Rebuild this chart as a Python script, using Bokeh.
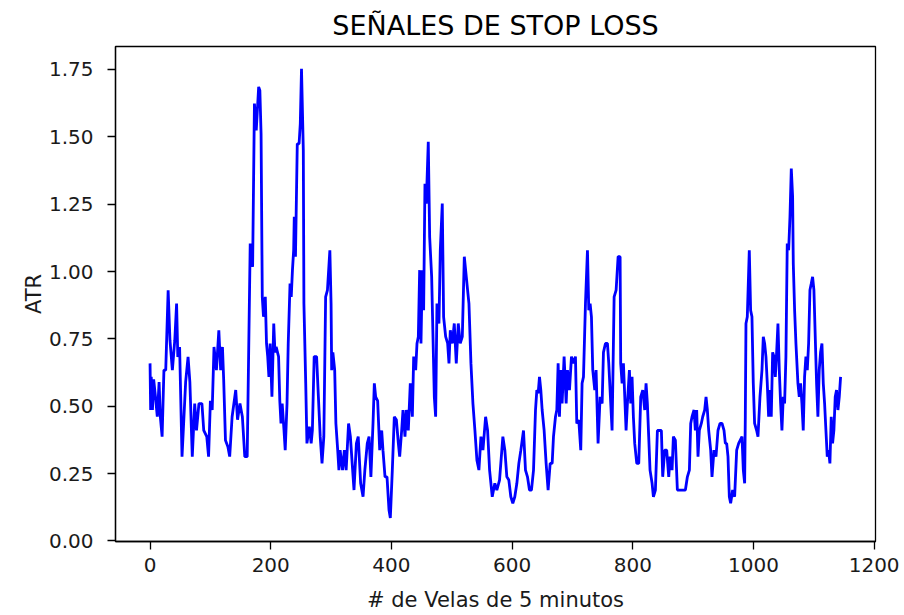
from bokeh.plotting import figure
from bokeh.models import Range1d, FixedTicker
from bokeh.embed import file_html
from bokeh.resources import INLINE

# ---- data (vertices) ----
vela = [0, 1, 2, 4, 6, 9, 12, 15, 17, 20, 23, 26, 30, 33, 37, 41, 44, 46, 49, 53,
        59, 63, 66, 70, 74, 77, 81, 86, 89, 94, 97, 100, 103, 106, 110, 114, 117, 120, 122, 125,
        129, 132, 136, 142, 145, 149, 153, 157, 161, 166, 170, 173, 176, 180, 182, 184, 186, 188, 191, 193,
        195, 197, 199, 202, 205, 207, 209, 213, 215, 217, 219, 222, 224, 227, 229, 232, 234, 236, 238, 239,
        241, 244, 247, 249, 251, 254, 255, 258, 260, 264, 267, 269, 272, 276, 279, 282, 285, 288, 291, 294,
        298, 300, 301, 303, 306, 308, 311, 313, 315, 319, 322, 325, 329, 332, 335, 338, 342, 345, 349, 353,
        356, 360, 363, 366, 369.5, 371.7, 373.9, 377.2, 380.6, 383.9, 386, 389.4, 392.7, 396, 398.2, 401.5, 404.8, 408.2, 411.5, 413.7,
        417, 419.2, 422.5, 424.7, 428, 431.3, 434.7, 436.9, 440.2, 442.4, 444.6, 446.8, 449, 451.2, 453.4, 455.6, 457.8, 461.1, 463.4, 466.7,
        468.9, 471.1, 473.3, 475.5, 478.8, 481, 484.3, 486.5, 489.9, 493.2, 495.4, 497.6, 500.9, 504.2, 507.5, 510.8, 514.1, 517.5, 520.8, 524.1,
        526.3, 528.5, 531.8, 535.1, 538.4, 541.7, 545, 548.4, 551.7, 556.1, 559.4, 562.7, 567.1, 571.4, 574.7, 579.2, 584.7, 588, 591.3, 594.6,
        597.9, 601.2, 604.5, 607.9, 611.2, 614.5, 618.9, 622.2, 625.5, 628.8, 632.1, 635.5, 638.8, 641, 643.2, 645.4, 647.6, 649.8, 653.1, 656.4,
        659.7, 663.1, 666.4, 668.6, 671.9, 674.1, 676.3, 678.5, 680.7, 682.9, 686.2, 689.6, 691.8, 695.1, 698.4, 701.7, 705, 707.2, 710.5, 713.8,
        716, 718.3, 721.6, 724.9, 727.1, 729.3, 731.5, 733.7, 737, 739.2, 742.5, 745.9, 749.2, 751.4, 754.7, 758, 760.2, 762.4, 765.7, 769.1,
        772.4, 775.7, 779, 780, 782.3, 784.5, 786.7, 788.9, 791.1, 794.4, 796.6, 798.8, 801, 803.2, 806.6, 809.9, 813.2, 816.5, 819.8, 822,
        824.2, 826.4, 828.6, 832, 834.2, 837.5, 840.8, 844.1, 847.4, 849.6, 852.9, 856.2, 859.6, 861.8, 865.1, 867.3, 870.6, 873.9, 877.2, 880.5,
        883.8, 887.2, 890.5, 893.8, 896, 898.2, 901.5, 903.7, 905.9, 908.1, 910.3, 913.6, 915.9, 919.2, 921.4, 923.6, 925.8, 929.1, 931.3, 934.6,
        937.9, 941.2, 944.6, 947.9, 951.2, 953.4, 955.6, 957.8, 960, 962.2, 965.5, 968.8, 972.2, 975.5, 981, 983.2, 985.4, 986.5, 987.6, 989.8,
        993.1, 995.3, 997.5, 999.7, 1001.9, 1005.3, 1007.5, 1010.8, 1014.1, 1016.3, 1018.5, 1020.7, 1022.9, 1025.1, 1027.3, 1029.5, 1031.8, 1034, 1036.2, 1038.4,
        1040.6, 1042.8, 1045, 1047.2, 1049.4, 1051.6, 1053.8, 1056, 1058.3, 1060.5, 1062.7, 1064.9, 1066, 1068.2, 1070.4, 1073.7, 1075.9, 1078.1, 1080.3, 1082.5,
        1084.7, 1086.9, 1089.2, 1091.4, 1093.6, 1095.8, 1098, 1100.2, 1102.4, 1104.6, 1106.8, 1109, 1111.2, 1113.5, 1115.7, 1117.9, 1120.1, 1122.3, 1124.5, 1126.7,
        1128.9, 1131.1, 1133.3, 1135.5, 1137.7, 1140, 1142.2, 1144.4]

atr = [0.659, 0.486, 0.609, 0.486, 0.60, 0.535, 0.461, 0.59, 0.461, 0.387, 0.634, 0.634, 0.93, 0.745, 0.634, 0.745, 0.881, 0.683, 0.72, 0.313,
       0.59, 0.683, 0.59, 0.313, 0.51, 0.41, 0.51, 0.51, 0.41, 0.387, 0.313, 0.52, 0.486, 0.72, 0.634, 0.782, 0.634, 0.72, 0.60, 0.374,
       0.35, 0.313, 0.461, 0.56, 0.45, 0.51, 0.461, 0.313, 0.313, 1.104, 1.017, 1.623, 1.524, 1.685, 1.672, 1.51, 0.906, 0.832, 0.906, 0.733,
       0.684, 0.609, 0.733, 0.535, 0.807, 0.70, 0.72, 0.684, 0.522, 0.436, 0.51, 0.41, 0.337, 0.51, 0.733, 0.955, 0.906, 1.005, 1.079, 1.203,
       1.055, 1.474, 1.474, 1.549, 1.752, 1.45, 0.881, 0.585, 0.362, 0.424, 0.362, 0.41, 0.684, 0.684, 0.535, 0.387, 0.288, 0.387, 0.906, 0.931,
       1.079, 0.881, 0.634, 0.70, 0.634, 0.436, 0.337, 0.263, 0.337, 0.263, 0.337, 0.263, 0.436, 0.387, 0.288, 0.189, 0.362, 0.387, 0.214, 0.164,
       0.263, 0.362, 0.387, 0.238, 0.436, 0.585, 0.535, 0.52, 0.337, 0.41, 0.337, 0.238, 0.238, 0.115, 0.085, 0.263, 0.461, 0.45, 0.362, 0.313,
       0.41, 0.486, 0.387, 0.486, 0.41, 0.585, 0.461, 0.684, 0.634, 0.733, 0.758, 1.005, 0.733, 1.005, 0.856, 1.326, 1.252, 1.481, 1.128, 0.98,
       0.758, 0.535, 0.461, 0.881, 0.807, 1.079, 1.252, 0.832, 0.758, 0.733, 0.659, 0.782, 0.733, 0.807, 0.659, 0.807, 0.733, 0.758, 1.055, 0.98,
       0.93, 0.881, 0.659, 0.51, 0.41, 0.30, 0.263, 0.387, 0.337, 0.461, 0.41, 0.263, 0.164, 0.214, 0.189, 0.226, 0.387, 0.337, 0.238, 0.226,
       0.164, 0.14, 0.164, 0.214, 0.288, 0.337, 0.41, 0.263, 0.238, 0.189, 0.189, 0.263, 0.486, 0.56, 0.548, 0.609, 0.56, 0.486, 0.41, 0.288,
       0.189, 0.288, 0.288, 0.387, 0.461, 0.486, 0.659, 0.461, 0.634, 0.51, 0.684, 0.51, 0.634, 0.56, 0.684, 0.659, 0.684, 0.436, 0.449, 0.337,
       0.585, 0.609, 0.881, 1.079, 0.856, 0.881, 0.832, 0.634, 0.56, 0.634, 0.362, 0.535, 0.51, 0.70, 0.733, 0.733, 0.659, 0.56, 0.41, 0.906,
       0.931, 1.055, 1.055, 0.659, 0.585, 0.659, 0.535, 0.41, 0.51, 0.634, 0.51, 0.609, 0.461, 0.362, 0.288, 0.288, 0.535, 0.56, 0.486, 0.585,
       0.51, 0.387, 0.263, 0.214, 0.164, 0.189, 0.41, 0.41, 0.41, 0.238, 0.337, 0.337, 0.238, 0.313, 0.263, 0.387, 0.374, 0.189, 0.189, 0.189,
       0.189, 0.189, 0.238, 0.263, 0.436, 0.461, 0.486, 0.41, 0.486, 0.313, 0.41, 0.436, 0.461, 0.486, 0.535, 0.486, 0.41, 0.337, 0.238, 0.337,
       0.313, 0.41, 0.436, 0.436, 0.41, 0.362, 0.362, 0.313, 0.164, 0.14, 0.189, 0.164, 0.337, 0.362, 0.387, 0.263, 0.214, 0.461, 0.807, 0.832,
       1.079, 0.856, 0.832, 0.585, 0.436, 0.41, 0.387, 0.535, 0.634, 0.758, 0.733, 0.684, 0.585, 0.461, 0.56, 0.461, 0.70, 0.684, 0.609, 0.70,
       0.807, 0.634, 0.51, 0.41, 0.535, 0.51, 0.684, 1.104, 1.079, 1.203, 1.382, 1.277, 1.03, 0.856, 0.733, 0.585, 0.535, 0.585, 0.51, 0.41,
       0.609, 0.684, 0.634, 0.733, 0.931, 0.955, 0.98, 0.931, 0.758, 0.585, 0.461, 0.634, 0.70, 0.733, 0.585, 0.51, 0.41, 0.313, 0.337, 0.288,
       0.461, 0.362, 0.41, 0.535, 0.56, 0.486, 0.535, 0.609]

x_ticks = [0, 200, 400, 600, 800, 1000, 1200]
y_ticks = [0.00, 0.25, 0.50, 0.75, 1.00, 1.25, 1.50, 1.75]
y_tick_labels = {0.0: "0.00", 0.25: "0.25", 0.5: "0.50", 0.75: "0.75",
                 1.0: "1.00", 1.25: "1.25", 1.5: "1.50", 1.75: "1.75"}

FONT = "DejaVu Sans"

p = figure(
    output_backend="svg", toolbar_location=None,
    frame_width=760, frame_height=495,
    min_border_left=115, min_border_right=29, min_border_top=46, min_border_bottom=74,
    x_range=Range1d(-57.25, 1202.25), y_range=Range1d(-0.002, 1.835),
    title="SEÑALES DE STOP LOSS",
)
p.line(vela, atr, line_color="#0000ff", line_width=2.8)

p.title.align = "center"
p.title.text_font = FONT
p.title.text_font_size = "27px"
p.title.text_font_style = "normal"
p.title.text_color = "#000000"
p.title.standoff = 12

p.grid.visible = False
p.outline_line_color = "#000000"
p.outline_line_width = 1.3
p.background_fill_color = "white"
p.border_fill_color = "white"

for ax in (p.xaxis[0], p.yaxis[0]):
    ax.axis_line_color = "#000000"
    ax.axis_line_width = 1.3
    ax.major_tick_line_color = "#000000"
    ax.major_tick_line_width = 1.3
    ax.major_tick_out = 8
    ax.major_tick_in = 0
    ax.minor_tick_line_color = None
    ax.major_label_text_font = FONT
    ax.major_label_text_font_size = "20px"
    ax.major_label_text_color = "#1a1a1a"
    ax.axis_label_text_font = FONT
    ax.axis_label_text_font_size = "21px"
    ax.axis_label_text_font_style = "normal"
    ax.axis_label_text_color = "#1a1a1a"

p.xaxis[0].ticker = FixedTicker(ticks=x_ticks)
p.yaxis[0].ticker = FixedTicker(ticks=y_ticks)
p.yaxis[0].major_label_overrides = y_tick_labels
p.xaxis[0].axis_label = "# de Velas de 5 minutos"
p.yaxis[0].axis_label = "ATR"
p.xaxis[0].major_label_standoff = 8
p.yaxis[0].major_label_standoff = 14
p.xaxis[0].axis_label_standoff = 13
p.yaxis[0].axis_label_standoff = 0

open("out.html", "w").write(file_html(p, INLINE))
